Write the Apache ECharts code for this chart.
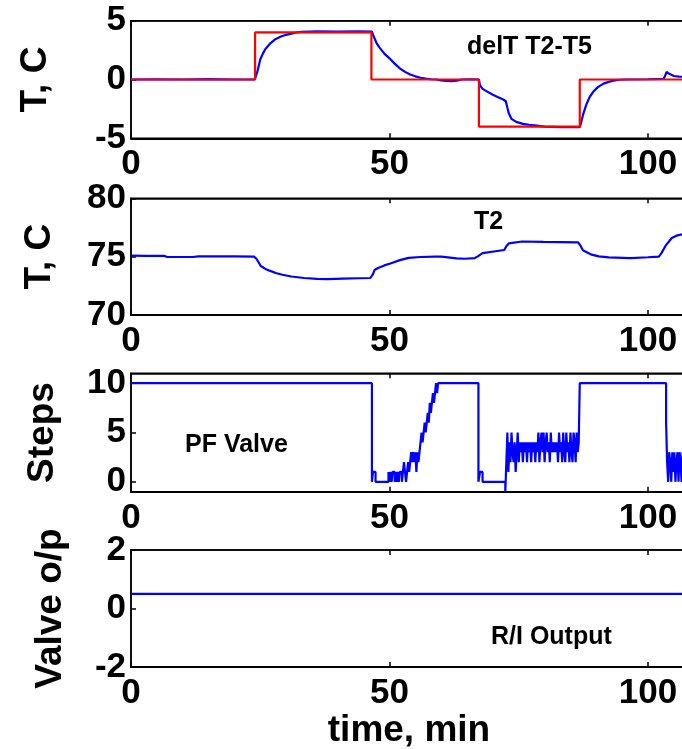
<!DOCTYPE html>
<html>
<head>
<meta charset="utf-8">
<script src="https://cdn.jsdelivr.net/npm/echarts@6/dist/echarts.min.js"></script>
<style>
html,body{margin:0;padding:0;background:#fff;}
#chart{width:682px;height:749px;}
</style>
</head>
<body>
<div id="chart"></div>
<script>
// ---- Data (time in minutes) ----
const delT = [[0,0],[5,0.02],[10,0.0],[15,0.03],[20,0.0],[23.9,0.0],[24.1,0.2],[24.4,0.6],[25,1.7],[25.5,2.2],[26,2.6],[27,3.1],[28,3.45],[29,3.65],[30,3.8],[31,3.9],[32,4.0],[33,4.05],[36,4.1],[40,4.08],[44,4.1],[46.6,4.08],[46.9,3.7],[47.5,3.1],[48,2.75],[49,2.2],[50,1.8],[51,1.35],[52,0.95],[53,0.65],[54,0.42],[55,0.27],[56,0.15],[57,0.08],[58,0.02],[59,0],[60,-0.08],[61,-0.12],[62,-0.14],[63,-0.1],[64,0],[66,0.02],[67.3,0],[67.5,-0.5],[68,-0.8],[69,-1.05],[70,-1.3],[71,-1.5],[72,-1.7],[72.5,-1.85],[72.8,-2.4],[73.1,-2.9],[73.6,-3.35],[74.5,-3.6],[75.8,-3.77],[77,-3.85],[78.5,-3.92],[80,-4.0],[83,-4.05],[85,-4.05],[86.8,-4.05],[87.1,-3.6],[87.5,-2.9],[88.1,-2.1],[88.7,-1.5],[89.4,-1.05],[90.3,-0.65],[91.4,-0.35],[92.4,-0.2],[93.3,-0.1],[94.5,-0.02],[96,0],[100,0.02],[103,0.05],[103.3,0.3],[103.6,0.65],[104,0.5],[104.3,0.35],[105,0.3],[106,0.25],[107,0.22]];
const setpointTimes = [0,24,46.5,67.3,86.8,107];
const setpointValues = [0,4,0,-4,0,0];
const t2 = [[0,75.08],[3,75.07],[6.5,75.06],[7,74.97],[12,74.97],[13,75.03],[20,75.02],[23.8,75.0],[24.3,74.8],[25.1,74.2],[26,73.95],[26.8,73.8],[28,73.6],[29.3,73.45],[31,73.3],[33.5,73.17],[36,73.1],[38,73.08],[41,73.12],[44,73.15],[46.3,73.17],[46.8,73.5],[47.1,73.85],[47.8,74.03],[49,74.25],[50.3,74.43],[52,74.7],[53.7,74.89],[56,74.97],[58.8,75.0],[60,75.0],[61.3,74.94],[63,74.85],[64.5,74.82],[66.5,74.88],[67,75.0],[68,75.3],[70.5,75.46],[72.2,75.57],[72.6,75.9],[73.1,76.14],[75.6,76.3],[79.8,76.26],[83,76.25],[86.5,76.22],[87,75.9],[87.4,75.55],[89.1,75.17],[90.5,75.02],[92.4,74.94],[96.6,74.88],[100,74.95],[102.1,75.0],[102.6,75.3],[103.4,75.94],[104.6,76.6],[105.5,76.8],[107,76.95]];
const valveSteps = [[0,10],[46.6,0],[46.8,1],[47.3,0],
[49.8,1],[50.0,0],[50.2,1],[50.4,0],[50.6,1],[51.0,0],[51.2,1],[51.4,0],[51.6,1],[51.8,0],[52.0,1],[52.4,0],[52.6,1],[52.8,2],[53.0,1],[53.2,0],[53.4,1],[53.6,2],[53.8,1],[54.0,2],[54.2,3],[54.4,2],[54.6,3],[54.8,2],[55.0,3],[55.2,1],[55.4,3],[55.6,2],[55.8,3],[56.0,4],[56.2,5],[56.4,4],[56.6,5],[56.8,6],[57.0,5],[57.2,6],[57.4,7],[57.6,6],[57.8,8],[58.0,7],[58.2,8],[58.4,9],[58.6,8],[58.8,9],[59.0,10],[59.2,9],[59.4,10],
[67.2,0],[67.5,1],[68.0,0],[72.4,-1],[72.6,2],
[72.8,5],[73.0,1],[73.2,4],[73.4,2],[73.6,5],[73.8,3],[74.0,2],[74.2,4],[74.4,1],[74.6,3],[74.8,5],[75.0,2],[75.2,4],[75.4,3],[75.6,4],[75.8,2],[76.0,4],[76.2,3],[76.4,4],[76.6,2],[76.8,4],[77.0,3],[77.2,4],[77.4,2],[77.6,4],[77.8,3],[78.0,4],[78.2,2],[78.4,4],[78.6,3],[78.8,5],[79.0,2],[79.2,4],[79.4,5],[79.6,3],[79.8,5],[80.0,2],[80.2,4],[80.4,5],[80.6,3],[80.8,4],[81.0,2],[81.2,5],[81.4,3],[81.6,4],[81.8,3],[82.0,4],[82.2,3],[82.4,4],[82.6,2],[82.8,5],[83.0,3],[83.2,4],[83.4,2],[83.6,5],[83.8,3],[84.0,2],[84.2,5],[84.4,3],[84.6,4],[84.8,2],[85.0,5],[85.2,3],[85.4,2],[85.6,5],[85.8,4],[86.0,2],[86.2,5],[86.4,3],[86.6,4],
[86.8,10],[103.5,6],[103.7,2],
[103.9,0],[104.1,3],[104.3,2],[104.5,0],[104.7,3],[104.9,1],[105.1,3],[105.3,0],[105.5,2],[105.7,3],[105.9,0],[106.1,3],[106.3,2],[106.5,0],[106.7,3],[106.9,2]];
const valveOutput = [[0,0.5],[107,0.5]];
const xTicks = {min:0, max:110, interval:50};
const yNames = ['T, C','T, C','Steps','Valve o/p'];
const yRanges = [{min:-5,max:5,interval:5},{min:70,max:80,interval:5},{min:-1,max:11,ticks:[0,5,10]},{min:-2,max:2,interval:2}];
const notes = ['delT T2-T5','T2','PF Valve','R/I Output'];
const xName = 'time, min';

// ---- Layout ----
const FONT = '"Liberation Sans", Arial, sans-serif';
const gridTops = [20.7, 198.3, 373.3, 550];
const gridHeights = [117.6, 116.7, 118.4, 117];
const gridLeft = 131, gridWidth = 568.7;
const nameGaps = [77, 73, 70, 62];
const notePos = [[467,35],[474,210],[185,433],[491,625]];

const grids = [], xAxes = [], yAxes = [], series = [];
for (let i = 0; i < 4; i++) {
  grids.push({left:gridLeft, top:gridTops[i], width:gridWidth, height:gridHeights[i],
    outerBoundsMode:'none', containLabel:false,
    show:true, borderColor:'#000', borderWidth:1.5, backgroundColor:'#fff'});
  xAxes.push({type:'value', gridIndex:i, min:xTicks.min, max:xTicks.max, interval:xTicks.interval,
    axisLine:{show:true, onZero:false, lineStyle:{color:'#000', width:2}},
    axisTick:{show:true, inside:true, length:5, lineStyle:{color:'#000', width:1.5}},
    axisLabel:{show:true, margin:9, color:'#000', fontFamily:FONT, fontWeight:'bold', fontSize:35},
    splitLine:{show:false}});
  xAxes.push({type:'value', gridIndex:i, position:'top', min:xTicks.min, max:xTicks.max, interval:xTicks.interval,
    axisLine:{show:true, onZero:false, lineStyle:{color:'#000', width:1.5}},
    axisTick:{show:true, inside:true, length:5, lineStyle:{color:'#000', width:1.5}},
    axisLabel:{show:false}, splitLine:{show:false}});
  const r = yRanges[i];
  const y = {type:'value', gridIndex:i, min:r.min, max:r.max,
    name:yNames[i], nameLocation:'middle', nameGap:nameGaps[i], nameRotate:90,
    nameTextStyle:{color:'#000', fontFamily:FONT, fontWeight:'bold', fontSize:37},
    axisLine:{show:true, onZero:false, lineStyle:{color:'#000', width:1.5}},
    axisTick:{show:true, inside:true, length:5, lineStyle:{color:'#000', width:1.5}},
    axisLabel:{show:true, margin:5, color:'#000', fontFamily:FONT, fontWeight:'bold', fontSize:35},
    splitLine:{show:false}};
  if (r.ticks) {
    y.axisLabel.customValues = r.ticks;
    y.axisTick.customValues = r.ticks;
  } else {
    y.interval = r.interval;
  }
  yAxes.push(y);
}

const lineBase = {type:'line', showSymbol:false, symbol:'none', animation:false, sampling:null, clip:true};
series.push(Object.assign({}, lineBase, {name:'delT', xAxisIndex:0, yAxisIndex:0, data:delT,
  lineStyle:{color:'#0000ff', width:2.2}, z:2}));
series.push(Object.assign({}, lineBase, {name:'setpoint', xAxisIndex:0, yAxisIndex:0, step:'end',
  data:setpointTimes.map((t,k)=>[t,setpointValues[k]]), lineStyle:{color:'#ff0000', width:2.2}, z:3}));
series.push(Object.assign({}, lineBase, {name:'T2', xAxisIndex:2, yAxisIndex:1, data:t2,
  lineStyle:{color:'#0000ff', width:2.2}}));
series.push(Object.assign({}, lineBase, {name:'PF Valve', xAxisIndex:4, yAxisIndex:2, step:'end', data:valveSteps,
  lineStyle:{color:'#0000ff', width:2.2}}));
series.push(Object.assign({}, lineBase, {name:'R/I Output', xAxisIndex:6, yAxisIndex:3, data:valveOutput,
  lineStyle:{color:'#0000ff', width:2.2}}));

const graphics = notes.map((txt,k)=>({type:'text', left:notePos[k][0], top:notePos[k][1], z:100,
  style:{text:txt, fill:'#000', font:'bold 25px ' + FONT}}));
graphics.push({type:'text', x:409, y:712, z:100,
  style:{text:xName, fill:'#000', font:'bold 37px ' + FONT, align:'center', verticalAlign:'top'}});

const chart = echarts.init(document.getElementById('chart'), null, {renderer:'canvas'});
chart.setOption({
  backgroundColor:'#fff',
  animation:false,
  grid:grids, xAxis:xAxes, yAxis:yAxes, series:series, graphic:graphics
});
</script>
</body>
</html>
